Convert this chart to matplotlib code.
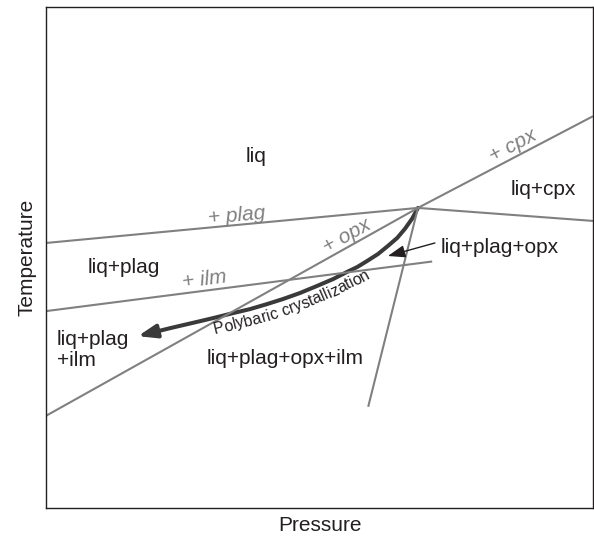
import numpy as np
import matplotlib.pyplot as plt
from matplotlib.patches import FancyArrowPatch
from matplotlib.path import Path

plt.rcParams['font.family'] = ['Liberation Sans', 'DejaVu Sans']

# schematic P-T diagram, both axes 0-100 (no units)
plag_p = [0, 68.0]
plag_t = [52.9, 59.9]
cpx_p = [68.0, 100]
cpx_t = [59.9, 78.2]
opx_p = [0, 68.0]
opx_t = [18.4, 59.9]
cpxout_p = [68.0, 100]
cpxout_t = [59.9, 57.3]
ilm_p = [0, 70.6]
ilm_t = [39.3, 49.2]
steep_p = [68.0, 58.9]
steep_t = [59.9, 20.2]

# polybaric crystallization path, from invariant point down to low P
path_p = [68.0, 66.9, 65.6, 64.2, 62.5, 60.7, 58.7, 56.9, 55.0, 52.5,
          49.5, 46.4, 43.3, 40.4, 37.3, 34.2, 30.9, 28.2, 22.7, 16.8]
path_t = [59.9, 57.7, 55.7, 53.9, 52.3, 50.7, 49.3, 48.1, 47.1, 45.7,
          44.3, 42.9, 41.7, 40.7, 39.7, 38.9, 38.0, 37.3, 35.9, 34.3]

region_labels = ['liq', 'liq+cpx', 'liq+plag+opx', 'liq+plag',
                 'liq+plag+opx+ilm']
region_p = [38.4, 90.9, 83.0, 14.3, 43.7]
region_t = [69.1, 62.5, 50.9, 47.0, 28.7]

phase_labels = ['+ plag', '+ cpx', '+ opx', '+ ilm']
phase_p = [34.9, 85.9, 55.6, 29.1]
phase_t = [57.3, 71.3, 53.3, 44.5]
phase_rot = [5.4, 27.7, 29.2, 7.4]

GREY = '#808080'
INK = '#231f20'


def curved_text(ax, s, xs, ys, start_p, offset_px, **kw):
    # put each character of s along a line offset below the (xs, ys) path
    fig = ax.figure
    fig.canvas.draw()
    rend = fig.canvas.get_renderer()
    pts = ax.transData.transform(np.column_stack([xs, ys]))
    seg = np.diff(pts, axis=0)
    seg_ang = np.arctan2(seg[:, 1], seg[:, 0])
    v_ang = np.concatenate([[seg_ang[0]], (seg_ang[:-1] + seg_ang[1:]) / 2,
                            [seg_ang[-1]]])
    normals = np.column_stack([np.sin(v_ang), -np.cos(v_ang)])
    off = pts + offset_px * normals
    d = np.diff(off, axis=0)
    arc = np.concatenate([[0], np.cumsum(np.hypot(d[:, 0], d[:, 1]))])
    x0 = ax.transData.transform((start_p, ys[0]))[0]
    s0 = np.interp(x0, off[:, 0], arc)

    probe = ax.text(0, 0, 'x', **kw)
    fp = probe.get_fontproperties()
    probe.remove()

    def width(txt):
        return rend.get_text_width_height_descent(txt, fp, ismath=False)[0]

    bar = width('|')
    inv = ax.transData.inverted()
    for i, ch in enumerate(s):
        a = width(s[:i] + '|') - bar if i else 0
        b = width(s[:i + 1] + '|') - bar
        c = s0 + (a + b) / 2
        x = np.interp(c, arc, off[:, 0])
        y = np.interp(c, arc, off[:, 1])
        ang = np.degrees(np.interp(c, arc, v_ang))
        px, py = inv.transform((x, y))
        ax.text(px, py, ch, rotation=ang, rotation_mode='anchor',
                ha='center', va='baseline', **kw)


fig = plt.figure(figsize=(5.94, 5.38), dpi=100)
ax = fig.add_axes([46 / 594, 30 / 538, 547 / 594, 501 / 538])
ax.set_xlim(0, 100)
ax.set_ylim(0, 100)
ax.set_xticks([])
ax.set_yticks([])
for sp in ax.spines.values():
    sp.set_linewidth(1.0)
    sp.set_color(INK)

for p, t in [(plag_p, plag_t), (cpx_p, cpx_t), (opx_p, opx_t),
             (cpxout_p, cpxout_t), (ilm_p, ilm_t), (steep_p, steep_t)]:
    ax.plot(p, t, color=GREY, lw=1.5, solid_capstyle='butt')

# thick path with arrow head
arrow = FancyArrowPatch(path=Path(np.column_stack([path_p, path_t])),
                        arrowstyle='-|>,head_length=0.55,head_width=0.2',
                        mutation_scale=20, lw=2.9, color='#3a3a3a',
                        joinstyle='round')
ax.add_patch(arrow)

# small pointer to liq+plag+opx field
ax.annotate('', xy=(62.5, 50.3), xytext=(71.1, 52.9),
            arrowprops=dict(arrowstyle='-|>,head_length=0.7,head_width=0.25',
                            mutation_scale=15, lw=1.0, color=INK,
                            shrinkA=0, shrinkB=0))

for lab, p, t in zip(region_labels, region_p, region_t):
    ax.text(p, t, lab, fontsize=15, color=INK, ha='center', va='baseline')
ax.text(2.0, 28.3, 'liq+plag\n+ilm', fontsize=15, color=INK, ha='left',
        va='baseline', linespacing=1.12)

for lab, p, t, r in zip(phase_labels, phase_p, phase_t, phase_rot):
    ax.text(p, t, lab, fontsize=15, color=GREY, style='italic', rotation=r,
            rotation_mode='anchor', ha='center', va='baseline')

ax.set_xlabel('Pressure', fontsize=15, color=INK)
ax.set_ylabel('Temperature', fontsize=15, color=INK)
ax.xaxis.set_label_coords(0.5, -0.016)
ax.yaxis.set_label_coords(-0.017, 0.5)

curved_text(ax, 'Polybaric crystallization', path_p[::-1], path_t[::-1],
            30.9, 16, fontsize=11.5, color=INK)

fig.savefig('out.png', dpi=100)
